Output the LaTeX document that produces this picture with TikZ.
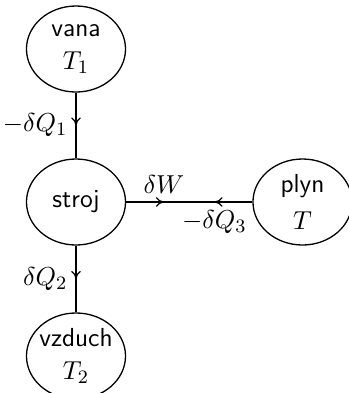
\documentclass[tikz,border=0pt]{standalone}
\usetikzlibrary{shapes.geometric,decorations.markings,arrows.meta}
\begin{document}
\begin{tikzpicture}[x=0.422pt,y=-0.422pt,line width=0.55pt,
  font=\fontsize{11}{13.6}\selectfont,
  place/.style={draw, ellipse, minimum width=41.8pt, minimum height=36.3pt,
    inner xsep=-2pt, inner ysep=-8pt, align=center,
    font=\fontsize{11}{13.6}\sffamily},
  flowmark/.style={postaction={decorate},
    decoration={markings, mark=at position #1 with {\arrow{To[length=3.4pt,width=4pt]}}}}]
  \useasboundingbox (0,0) rectangle (349,393);

  % reservoirs and the engine
  \node[place] (vana)   at (76,49)    {vana\\$T_1$};
  \node[place] (stroj)  at (76,202)   {stroj};
  \node[place] (plyn)   at (302.5,202) {plyn\\[2pt]$T$};
  \node[place] (vzduch) at (76,356)   {vzduch\\$T_2$};

  % heat and work flows
  \draw[flowmark=0.5] (vana) -- node[left] {$-\delta Q_1$} (stroj);
  \draw[flowmark=0.5] (stroj) -- node[left] {$\delta Q_2$} (vzduch);
  \draw[flowmark=0.3] (stroj) -- node[pos=0.3, above] {$\delta W$} (plyn);
  \draw[flowmark=0.3] (plyn) -- node[pos=0.3, below] {$-\delta Q_3$} (stroj);
\end{tikzpicture}
\end{document}
